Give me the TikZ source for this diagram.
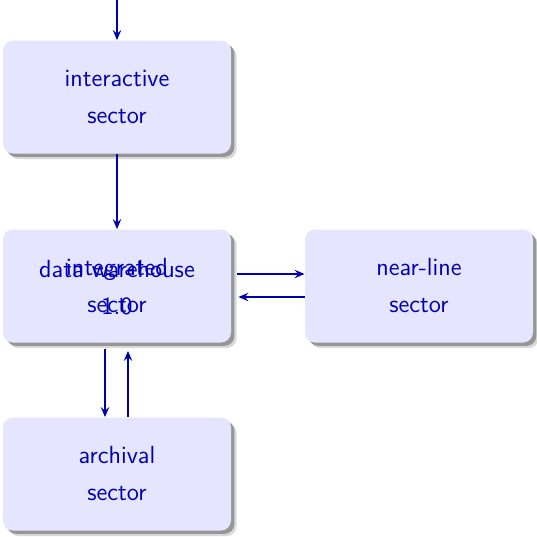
\documentclass[tikz,border=0pt]{standalone}
\usetikzlibrary{shadows,arrows.meta}
\definecolor{ink}{rgb}{0,0,0.7}
\tikzset{
  labelfont/.style={font=\sffamily\fontsize{12.4}{18.5}\selectfont},
  sectorbox/.style={rectangle, rounded corners=5pt, fill=blue!10, draw=none,
    drop shadow={shadow xshift=2.8pt, shadow yshift=-2.8pt, opacity=0.3},
    drop shadow={shadow xshift=1.7pt, shadow yshift=-1.7pt, opacity=0.75},
    minimum width=114pt, minimum height=56.5pt, align=center,
    text=ink, labelfont},
  overlaytext/.style={align=center, text=ink, labelfont},
  flow/.style={-{Stealth[length=5pt,width=4.2pt,inset=1.8pt]}, draw=ink, line width=0.95pt},
}
\begin{document}
\begin{tikzpicture}[x=0.5pt, y=-0.5pt]
  \useasboundingbox (0,0) rectangle (537,537);
  % sectors
  \node[sectorbox] (inter) at (117,97) {interactive\\sector};
  \node[sectorbox] (integ) at (117,286) {integrated\\sector};
  \node[overlaytext] (dw) at (117,288) {data warehouse\\1.0};
  \node[sectorbox] (near) at (419,286) {near-line\\sector};
  \node[sectorbox] (arch) at (117,474) {archival\\sector};
  % incoming feed
  \coordinate (src) at (117,0);
  \draw[flow] (src) -- (inter.north);
  \draw[flow] (inter.south) -- (integ.north);
  % integrated <-> near-line
  \draw[flow] ([xshift=3pt,yshift=6pt]integ.east) -- ([yshift=6pt]near.west);
  \draw[flow] ([yshift=-5.5pt]near.west) -- ([xshift=3.5pt,yshift=-5.5pt]integ.east);
  % integrated <-> archival
  \draw[flow] ([xshift=-6pt,yshift=-3pt]integ.south) -- ([xshift=-6pt]arch.north);
  \draw[flow] ([xshift=5.5pt]arch.north) -- ([xshift=5.5pt,yshift=-4pt]integ.south);
\end{tikzpicture}
\end{document}
